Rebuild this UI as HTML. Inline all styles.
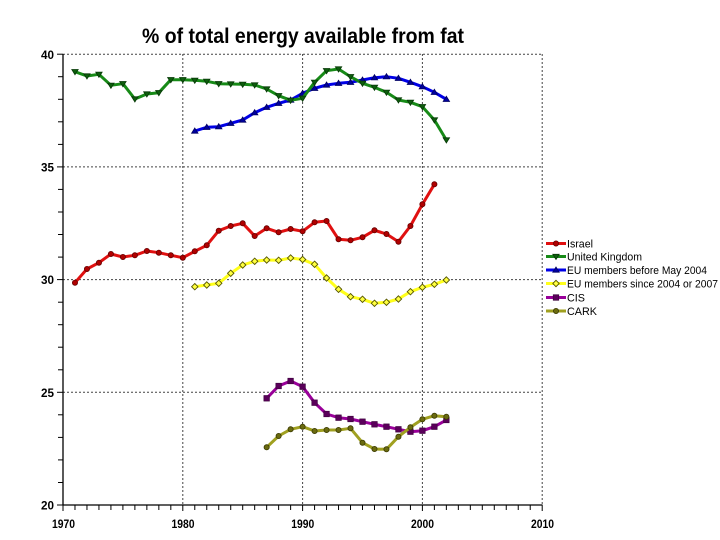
<!DOCTYPE html>
<html><head><meta charset="utf-8"><style>
html,body{margin:0;padding:0;background:#fff;}
svg{display:block;}
text{font-family:"Liberation Sans",Arial,sans-serif;}
</style></head><body>
<svg width="720" height="540" viewBox="0 0 720 540" xmlns="http://www.w3.org/2000/svg">
<defs>
<marker id="mc" markerUnits="userSpaceOnUse" markerWidth="10" markerHeight="10" refX="5" refY="5"><circle cx="5" cy="5" r="2.6" fill="#b00000" stroke="#600" stroke-width="0.8"/></marker>
<marker id="mtd" markerUnits="userSpaceOnUse" markerWidth="10" markerHeight="10" refX="5" refY="5"><path d="M1.8,2.8 L8.2,2.8 L5,8 Z" fill="#0d5e0d" stroke="#063806" stroke-width="0.8"/></marker>
<marker id="mtu" markerUnits="userSpaceOnUse" markerWidth="10" markerHeight="10" refX="5" refY="5"><path d="M1.8,7.2 L8.2,7.2 L5,2 Z" fill="#0000a0" stroke="#000060" stroke-width="0.8"/></marker>
<marker id="md" markerUnits="userSpaceOnUse" markerWidth="10" markerHeight="10" refX="5" refY="5"><path d="M5,1.8 L8.2,5 L5,8.2 L1.8,5 Z" fill="#ffff40" stroke="#555500" stroke-width="0.9"/></marker>
<marker id="ms" markerUnits="userSpaceOnUse" markerWidth="10" markerHeight="10" refX="5" refY="5"><rect x="2.2" y="2.2" width="5.6" height="5.6" fill="#5a005a" stroke="#3a003a" stroke-width="0.6"/></marker>
<marker id="mo" markerUnits="userSpaceOnUse" markerWidth="10" markerHeight="10" refX="5" refY="5"><circle cx="5" cy="5" r="2.6" fill="#6a6a10" stroke="#3a3a00" stroke-width="0.8"/></marker>
</defs>

<!-- title -->
<text x="142" y="43" font-size="21" font-weight="bold" textLength="322" lengthAdjust="spacingAndGlyphs" fill="#000">% of total energy available from fat</text>

<!-- grid -->
<g stroke="#444" stroke-width="1" stroke-dasharray="2,2" fill="none">
<line x1="63" y1="54.2" x2="542" y2="54.2"/>
<line x1="63" y1="166.9" x2="542" y2="166.9"/>
<line x1="63" y1="279.6" x2="542" y2="279.6"/>
<line x1="63" y1="392.3" x2="542" y2="392.3"/>
<line x1="182.8" y1="54" x2="182.8" y2="505"/>
<line x1="302.6" y1="54" x2="302.6" y2="505"/>
<line x1="422.4" y1="54" x2="422.4" y2="505"/>
<line x1="542.2" y1="54" x2="542.2" y2="505"/>
</g>

<!-- axes -->
<g stroke="#000" stroke-width="1.3" fill="none">
<line x1="63" y1="54" x2="63" y2="505.5"/>
<line x1="62.5" y1="505" x2="542.5" y2="505"/>
</g>
<!-- y ticks -->
<g stroke="#000" stroke-width="1">
<line x1="57" y1="505" x2="63" y2="505"/><line x1="58" y1="482.5" x2="63" y2="482.5"/><line x1="58" y1="459.9" x2="63" y2="459.9"/><line x1="58" y1="437.4" x2="63" y2="437.4"/><line x1="58" y1="414.8" x2="63" y2="414.8"/>
<line x1="57" y1="392.3" x2="63" y2="392.3"/><line x1="58" y1="369.8" x2="63" y2="369.8"/><line x1="58" y1="347.2" x2="63" y2="347.2"/><line x1="58" y1="324.7" x2="63" y2="324.7"/><line x1="58" y1="302.2" x2="63" y2="302.2"/>
<line x1="57" y1="279.6" x2="63" y2="279.6"/><line x1="58" y1="257.1" x2="63" y2="257.1"/><line x1="58" y1="234.5" x2="63" y2="234.5"/><line x1="58" y1="212" x2="63" y2="212"/><line x1="58" y1="189.4" x2="63" y2="189.4"/>
<line x1="57" y1="166.9" x2="63" y2="166.9"/><line x1="58" y1="144.4" x2="63" y2="144.4"/><line x1="58" y1="121.8" x2="63" y2="121.8"/><line x1="58" y1="99.3" x2="63" y2="99.3"/><line x1="58" y1="76.7" x2="63" y2="76.7"/>
<line x1="57" y1="54.2" x2="63" y2="54.2"/>
</g>
<!-- x ticks -->
<g stroke="#000" stroke-width="1">
<line x1="63" y1="505" x2="63" y2="511"/><line x1="74.98" y1="505" x2="74.98" y2="510"/><line x1="86.96" y1="505" x2="86.96" y2="510"/><line x1="98.94" y1="505" x2="98.94" y2="510"/><line x1="110.92" y1="505" x2="110.92" y2="510"/><line x1="122.9" y1="505" x2="122.9" y2="510"/><line x1="134.88" y1="505" x2="134.88" y2="510"/><line x1="146.86" y1="505" x2="146.86" y2="510"/><line x1="158.84" y1="505" x2="158.84" y2="510"/><line x1="170.82" y1="505" x2="170.82" y2="510"/>
<line x1="182.8" y1="505" x2="182.8" y2="511"/><line x1="194.78" y1="505" x2="194.78" y2="510"/><line x1="206.76" y1="505" x2="206.76" y2="510"/><line x1="218.74" y1="505" x2="218.74" y2="510"/><line x1="230.72" y1="505" x2="230.72" y2="510"/><line x1="242.7" y1="505" x2="242.7" y2="510"/><line x1="254.68" y1="505" x2="254.68" y2="510"/><line x1="266.66" y1="505" x2="266.66" y2="510"/><line x1="278.64" y1="505" x2="278.64" y2="510"/><line x1="290.62" y1="505" x2="290.62" y2="510"/>
<line x1="302.6" y1="505" x2="302.6" y2="511"/><line x1="314.58" y1="505" x2="314.58" y2="510"/><line x1="326.56" y1="505" x2="326.56" y2="510"/><line x1="338.54" y1="505" x2="338.54" y2="510"/><line x1="350.52" y1="505" x2="350.52" y2="510"/><line x1="362.5" y1="505" x2="362.5" y2="510"/><line x1="374.48" y1="505" x2="374.48" y2="510"/><line x1="386.46" y1="505" x2="386.46" y2="510"/><line x1="398.44" y1="505" x2="398.44" y2="510"/><line x1="410.42" y1="505" x2="410.42" y2="510"/>
<line x1="422.4" y1="505" x2="422.4" y2="511"/><line x1="434.38" y1="505" x2="434.38" y2="510"/><line x1="446.36" y1="505" x2="446.36" y2="510"/><line x1="458.34" y1="505" x2="458.34" y2="510"/><line x1="470.32" y1="505" x2="470.32" y2="510"/><line x1="482.3" y1="505" x2="482.3" y2="510"/><line x1="494.28" y1="505" x2="494.28" y2="510"/><line x1="506.26" y1="505" x2="506.26" y2="510"/><line x1="518.24" y1="505" x2="518.24" y2="510"/><line x1="530.22" y1="505" x2="530.22" y2="510"/>
<line x1="542.2" y1="505" x2="542.2" y2="511"/>
</g>

<!-- tick labels -->
<g font-size="12" font-weight="bold" fill="#000">
<text x="41" y="59" textLength="13" lengthAdjust="spacingAndGlyphs">40</text>
<text x="41" y="171.5" textLength="13" lengthAdjust="spacingAndGlyphs">35</text>
<text x="41" y="284.2" textLength="13" lengthAdjust="spacingAndGlyphs">30</text>
<text x="41" y="397" textLength="13" lengthAdjust="spacingAndGlyphs">25</text>
<text x="41" y="509.6" textLength="13" lengthAdjust="spacingAndGlyphs">20</text>
<text x="52" y="528" textLength="23" lengthAdjust="spacingAndGlyphs">1970</text>
<text x="171.5" y="528" textLength="23" lengthAdjust="spacingAndGlyphs">1980</text>
<text x="291.3" y="528" textLength="23" lengthAdjust="spacingAndGlyphs">1990</text>
<text x="411" y="528" textLength="23" lengthAdjust="spacingAndGlyphs">2000</text>
<text x="531" y="528" textLength="23" lengthAdjust="spacingAndGlyphs">2010</text>
</g>

<!-- series -->
<g fill="none" stroke-width="3" stroke-linejoin="round" stroke-linecap="round">
<polyline stroke="#e01010" marker-start="url(#mc)" marker-mid="url(#mc)" marker-end="url(#mc)" points="74.98,282.7 86.96,269 98.94,262.7 110.92,254 122.9,257 134.88,255.3 146.86,251 158.84,252.7 170.82,255.3 182.8,257.7 194.78,251.3 206.76,245.3 218.74,230.7 230.72,226 242.7,223.3 254.68,236 266.66,228.3 278.64,232.3 290.62,229 302.6,231.3 314.58,222.3 326.56,221 338.54,239.3 350.52,240.3 362.5,237.3 374.48,230.3 386.46,234 398.44,241.7 410.42,226 422.4,204.3 434.38,184.3"/>
<polyline stroke="#0000e6" marker-start="url(#mtu)" marker-mid="url(#mtu)" marker-end="url(#mtu)" points="194.78,131 206.76,127.3 218.74,126.7 230.72,123.3 242.7,120 254.68,112.7 266.66,107.3 278.64,103.3 290.62,100 302.6,93.3 314.58,88.3 326.56,85 338.54,83.3 350.52,82.3 362.5,80 374.48,77.7 386.46,76.7 398.44,78.3 410.42,82.3 422.4,86.7 434.38,92.3 446.36,99.3"/>
<polyline stroke="#178a17" marker-start="url(#mtd)" marker-mid="url(#mtd)" marker-end="url(#mtd)" points="74.98,71.7 86.96,76 98.94,74.3 110.92,85.3 122.9,83.7 134.88,99 146.86,94 158.84,92.7 170.82,79.7 182.8,79.7 194.78,80.3 206.76,81.3 218.74,83.7 230.72,84 242.7,84.3 254.68,85 266.66,89 278.64,95.7 290.62,100.3 302.6,98.3 314.58,82.3 326.56,70.7 338.54,69 350.52,76.7 362.5,83.3 374.48,87.3 386.46,92.3 398.44,100 410.42,102.3 422.4,106.7 434.38,120 446.36,140"/>
<polyline stroke="#ffff1a" marker-start="url(#md)" marker-mid="url(#md)" marker-end="url(#md)" points="194.78,286.7 206.76,285 218.74,283.3 230.72,273.3 242.7,265 254.68,261.3 266.66,260 278.64,260.3 290.62,258 302.6,259.5 314.58,264.3 326.56,278 338.54,289.3 350.52,296.7 362.5,299.3 374.48,303.3 386.46,302.3 398.44,299 410.42,291.7 422.4,287.3 434.38,284.3 446.36,280"/>
<polyline stroke="#990099" marker-start="url(#ms)" marker-mid="url(#ms)" marker-end="url(#ms)" points="266.66,398.3 278.64,386 290.62,381 302.6,386.7 314.58,402.7 326.56,414 338.54,417.7 350.52,419 362.5,421.7 374.48,424.3 386.46,426.7 398.44,429.3 410.42,431.7 422.4,430.7 434.38,426.7 446.36,420"/>
<polyline stroke="#a0a020" marker-start="url(#mo)" marker-mid="url(#mo)" marker-end="url(#mo)" points="266.66,447.3 278.64,436 290.62,429.3 302.6,426.7 314.58,431 326.56,430 338.54,430 350.52,428.3 362.5,442.7 374.48,449 386.46,449.3 398.44,436.7 410.42,427.3 422.4,419.3 434.38,415.7 446.36,416.7"/>
</g>

<!-- legend -->
<g fill="none" stroke-width="3">
<polyline stroke="#e01010" marker-mid="url(#mc)" points="546,243.5 556,243.5 566,243.5"/>
<polyline stroke="#178a17" marker-mid="url(#mtd)" points="546,256.5 556,256.5 566,256.5"/>
<polyline stroke="#0000e6" marker-mid="url(#mtu)" points="546,270 556,270 566,270"/>
<polyline stroke="#ffff1a" marker-mid="url(#md)" points="546,283.5 556,283.5 566,283.5"/>
<polyline stroke="#990099" marker-mid="url(#ms)" points="546,297.5 556,297.5 566,297.5"/>
<polyline stroke="#a0a020" marker-mid="url(#mo)" points="546,311 556,311 566,311"/>
</g>
<g font-size="11" fill="#000">
<text x="567" y="247.5" textLength="26" lengthAdjust="spacingAndGlyphs">Israel</text>
<text x="567" y="260.5" textLength="75" lengthAdjust="spacingAndGlyphs">United Kingdom</text>
<text x="567" y="274" textLength="140" lengthAdjust="spacingAndGlyphs">EU members before May 2004</text>
<text x="567" y="287.5" textLength="151" lengthAdjust="spacingAndGlyphs">EU members since 2004 or 2007</text>
<text x="567" y="301.5" textLength="18" lengthAdjust="spacingAndGlyphs">CIS</text>
<text x="567" y="315" textLength="30" lengthAdjust="spacingAndGlyphs">CARK</text>
</g>
</svg>
</body></html>
